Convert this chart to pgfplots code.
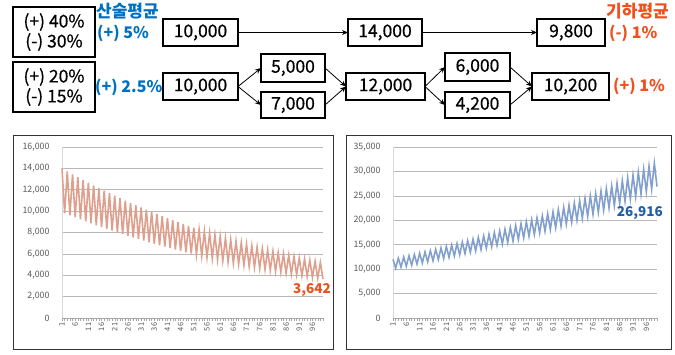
\documentclass[border=0pt]{standalone}
\usepackage{pgfplots}
\pgfplotsset{compat=1.18}
\usepackage{fontspec}
\setmainfont{Noto Sans CJK KR}
\newfontfamily\medfont[FakeBold=0.6]{Noto Sans CJK KR}
\usetikzlibrary{arrows.meta}
\definecolor{kblue}{RGB}{0,112,192}
\definecolor{kred}{RGB}{240,80,30}
\definecolor{lsalmon}{RGB}{222,160,140}
\definecolor{lsteel}{RGB}{130,160,205}
\definecolor{tickgray}{RGB}{89,89,89}
\definecolor{dblue}{RGB}{30,95,165}
\pgfplotsset{mychart/.style={
  scale only axis, anchor=south west,
  xmin=1, xmax=100, ymin=0,
  axis x line*=bottom, axis y line*=left,
  x axis line style={gray!70, line width=0.5pt},
  y axis line style={gray!30, line width=0.6pt},
  xtick={1,6,...,96}, minor xtick={1,...,100},
  tick align=outside,
  major tick length=3pt, minor tick length=3pt,
  x tick style={gray!70, line width=0.4pt},
  y tick style={draw=none},
  ymajorgrids, major grid style={gray!55, line width=0.6pt},
  xticklabel style={rotate=90, anchor=east, font=\fontsize{7.5}{8}\selectfont, text=tickgray, inner sep=1.5pt},
  yticklabel style={font=\fontsize{8.8}{9}\selectfont, text=tickgray, xshift=-6pt},
  /pgf/number format/.cd, 1000 sep={,}, assume math mode=true,
  /pgfplots/.cd,
  scaled y ticks=false, clip=false,
}}
\begin{document}
\begin{tikzpicture}
\useasboundingbox (0,0) rectangle (675pt,-354pt);
\begin{scope}[x=1pt,y=-1pt,
  box/.style={draw=black,line width=1.1pt},
  num/.style={font=\fontsize{17.5}{20}\medfont, inner sep=0pt},
  lab/.style={inner sep=0pt, font=\fontsize{16}{18}\selectfont\bfseries},
  arr/.style={-{Stealth[length=6pt,width=5pt]},line width=0.8pt}]
% left info boxes
\draw[box] (13,7) rectangle (95,57);
\node[num, align=center] at (54,32) {(+) 40\%\\(-) 30\%};
\draw[box] (13,62) rectangle (95,112);
\node[num, align=center] at (54,87) {(+) 20\%\\(-) 15\%};
% labels
\node[lab, anchor=west, text=kblue, font=\fontsize{17}{18}\selectfont\bfseries] at (96,11) {산술평균};
\node[lab, anchor=west, text=kblue] at (97,33) {(+) 5\%};
\node[lab, anchor=west, text=kblue] at (95,87) {(+) 2.5\%};
\node[lab, anchor=east, text=kred, font=\fontsize{17}{18}\selectfont\bfseries] at (669,11) {기하평균};
\node[lab, anchor=west, text=kred] at (609,33) {(-) 1\%};
\node[lab, anchor=west, text=kred] at (613,86) {(+) 1\%};
% value boxes
\draw[box] (163,19) rectangle (238,46); \node[num] at (200.5,32.5) {10,000};
\draw[box] (163,73) rectangle (238,100); \node[num] at (200.5,86.5) {10,000};
\draw[box] (261,54) rectangle (325,82); \node[num] at (293,68) {5,000};
\draw[box] (261,92) rectangle (325,118); \node[num] at (293,105) {7,000};
\draw[box] (348,19) rectangle (422,46); \node[num] at (385,32.5) {14,000};
\draw[box] (537,19) rectangle (605,46); \node[num] at (571,32.5) {9,800};
\draw[box] (346,73) rectangle (425,100); \node[num] at (385.5,86.5) {12,000};
\draw[box] (445,53) rectangle (510,81); \node[num] at (477.5,67) {6,000};
\draw[box] (445,92) rectangle (510,118); \node[num] at (477.5,105) {4,200};
\draw[box] (532,73) rectangle (609,100); \node[num] at (570.5,86.5) {10,200};
% arrows
\draw[arr] (238,32.5) -- (348,32.5);
\draw[arr] (422,32.5) -- (537,32.5);
\draw[arr] (238,86.5) -- (261,68);
\draw[arr] (238,86.5) -- (261,105);
\draw[arr] (325,68) -- (346,86.5);
\draw[arr] (325,105) -- (346,86.5);
\draw[arr] (425,86.5) -- (445,67);
\draw[arr] (425,86.5) -- (445,105);
\draw[arr] (510,67) -- (532,86.5);
\draw[arr] (510,105) -- (532,86.5);
% chart frames
\draw[black!80, line width=0.8pt] (13,135) rectangle (333,349);
\draw[black!80, line width=0.8pt] (346,135) rectangle (671,349);
\end{scope}

\begin{axis}[mychart, at={(62pt,-318pt)}, width=261pt, height=171pt,
  ymax=16000, ytick={0,2000,...,16000}]
\addplot[lsalmon, line width=1.6pt, no markers] coordinates {
(1,14000)(2,9800)(3,13720)(4,9604)(5,13446)(6,9412)(7,13177)(8,9224)(9,12913)(10,9039)
(11,12655)(12,8858)(13,12402)(14,8681)(15,12154)(16,8508)(17,11911)(18,8337)(19,11672)(20,8171)
(21,11439)(22,8007)(23,11210)(24,7847)(25,10986)(26,7690)(27,10766)(28,7536)(29,10551)(30,7386)
(31,10340)(32,7238)(33,10133)(34,7093)(35,9931)(36,6951)(37,9732)(38,6812)(39,9537)(40,6676)
(41,9347)(42,6543)(43,9160)(44,6412)(45,8976)(46,6283)(47,8797)(48,6158)(49,8621)(50,6035)
(51,8449)(52,5914)(53,8280)(54,5796)(55,8114)(56,5680)(57,7952)(58,5566)(59,7793)(60,5455)
(61,7637)(62,5346)(63,7484)(64,5239)(65,7334)(66,5134)(67,7188)(68,5031)(69,7044)(70,4931)
(71,6903)(72,4832)(73,6765)(74,4736)(75,6630)(76,4641)(77,6497)(78,4548)(79,6367)(80,4457)
(81,6240)(82,4368)(83,6115)(84,4281)(85,5993)(86,4195)(87,5873)(88,4111)(89,5755)(90,4029)
(91,5640)(92,3948)(93,5527)(94,3869)(95,5417)(96,3792)(97,5309)(98,3716)(99,5202)(100,3642)
};
\node[anchor=north east, inner sep=0pt, xshift=8pt, yshift=-4pt, text=kred,
  font=\fontsize{13.5}{15}\selectfont\bfseries] at (axis cs:100,3642) {3,642};
\end{axis}

\begin{axis}[mychart, at={(393pt,-318pt)}, width=264pt, height=171pt,
  ymax=35000, ytick={0,5000,...,35000}]
\addplot[lsteel, line width=1.6pt, no markers] coordinates {
(1,12000)(2,10200)(3,12240)(4,10404)(5,12485)(6,10612)(7,12734)(8,10824)(9,12989)(10,11041)
(11,13249)(12,11262)(13,13514)(14,11487)(15,13784)(16,11717)(17,14060)(18,11951)(19,14341)(20,12190)
(21,14628)(22,12434)(23,14920)(24,12682)(25,15219)(26,12936)(27,15523)(28,13195)(29,15834)(30,13459)
(31,16150)(32,13728)(33,16473)(34,14002)(35,16803)(36,14282)(37,17139)(38,14568)(39,17482)(40,14859)
(41,17831)(42,15157)(43,18188)(44,15460)(45,18552)(46,15769)(47,18923)(48,16084)(49,19301)(50,16406)
(51,19687)(52,16734)(53,20081)(54,17069)(55,20483)(56,17410)(57,20892)(58,17758)(59,21310)(60,18114)
(61,21736)(62,18476)(63,22171)(64,18845)(65,22614)(66,19222)(67,23067)(68,19607)(69,23528)(70,19999)
(71,23999)(72,20399)(73,24479)(74,20807)(75,24968)(76,21223)(77,25468)(78,21647)(79,25977)(80,22080)
(81,26496)(82,22522)(83,27026)(84,22972)(85,27567)(86,23432)(87,28118)(88,23901)(89,28681)(90,24379)
(91,29254)(92,24866)(93,29839)(94,25363)(95,30436)(96,25871)(97,31045)(98,26388)(99,31666)(100,26916)
};
\node[anchor=north east, inner sep=0pt, xshift=6pt, yshift=-20pt, text=dblue,
  font=\fontsize{13.5}{15}\selectfont\bfseries] at (axis cs:100,26916) {26,916};
\end{axis}
\end{tikzpicture}
\end{document}
